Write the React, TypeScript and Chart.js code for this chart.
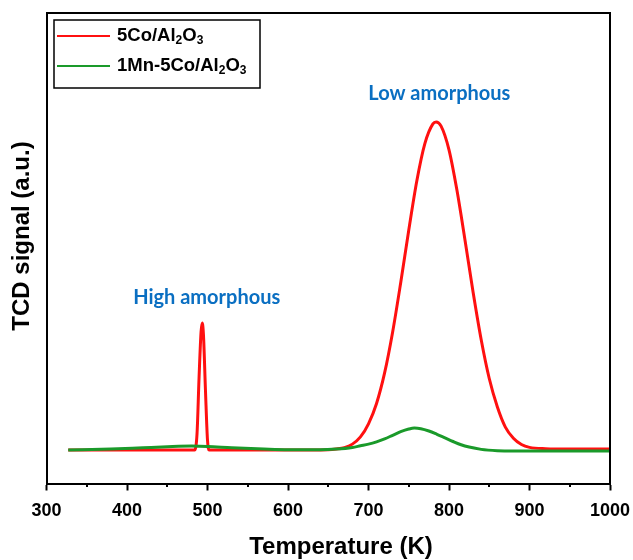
import React, { useEffect, useRef } from "react";
import { Chart, registerables } from "chart.js";

Chart.register(...registerables);

// ---------- data ----------
const X_MIN = 300;
const X_MAX = 1000;
const X_MAJOR_STEP = 100;
const X_MINOR_TICKS = [350, 450, 550, 650, 750, 850, 950];
const Y_MIN = -10.2;
const Y_MAX = 133.2;

const seriesNames = ["5Co/Al2O3", "1Mn-5Co/Al2O3"];
const seriesColors = ["#ff1010", "#1a9a2a"];

const redTemps = [
  327, 400, 470, 484, 487, 489.5, 492, 493.5, 495, 497.5, 500, 502, 550, 600,
  650, 660, 670, 680, 690, 700, 710, 720, 730, 740, 750, 760, 770, 780, 784,
  790, 800, 810, 820, 830, 840, 850, 860, 870, 880, 890, 900, 920, 950, 1000,
];
const redSignal = [
  0, 0, 0, 0, 5, 22, 36, 38.7, 35, 18, 3, 0, 0, 0,
  0.1, 0.3, 0.7, 1.8, 4.0, 8.0, 14.2, 23.5, 36, 51, 67, 82, 93.4, 99.4, 100,
  98.8, 91.5, 79, 63.8, 48, 33.6, 21.8, 13.2, 7.0, 3.6, 1.7, 0.8, 0.4, 0.3, 0.3,
];

const greenTemps = [
  327, 380, 420, 450, 480, 500, 530, 570, 600, 640, 660, 680, 690, 700, 710,
  720, 730, 740, 750, 757, 765, 775, 785, 795, 805, 815, 825, 840, 860, 880,
  1000,
];
const greenSignal = [
  0, 0.3, 0.7, 1.0, 1.2, 1.1, 0.7, 0.3, 0.1, 0.1, 0.3, 0.8, 1.3, 1.8, 2.5,
  3.4, 4.5, 5.6, 6.4, 6.7, 6.5, 5.8, 4.8, 3.7, 2.6, 1.6, 0.9, 0.2, -0.2, -0.3,
  -0.3,
];

const xTitle = "Temperature (K)";
const yTitle = "TCD signal (a.u.)";
const annotationTexts = ["Low amorphous", "High amorphous"];
const annotationX = [788, 499];
const annotationY = [108.8, 46.6];

// ---------- helpers ----------
const AXIS_FONT = "'Liberation Sans', Arial, Helvetica, sans-serif";

function drawSubText(ctx: CanvasRenderingContext2D, text: string, x: number, y: number, size: number) {
  let cx = x;
  for (let i = 0; i < text.length; i++) {
    const ch = text[i];
    const prev = i > 0 ? text[i - 1] : "";
    const isSub = /[0-9]/.test(ch) && /[A-Za-z]/.test(prev);
    if (isSub) {
      ctx.font = `bold ${Math.round(size * 0.65)}px ${AXIS_FONT}`;
      ctx.fillText(ch, cx, y + size * 0.28);
    } else {
      ctx.font = `bold ${size}px ${AXIS_FONT}`;
      ctx.fillText(ch, cx, y);
    }
    cx += ctx.measureText(ch).width;
  }
}

const framePlugin = {
  id: "frame",
  afterDraw(chart: any) {
    const { ctx, chartArea } = chart;
    const xs = chart.scales.x;
    ctx.save();
    // top and right frame
    ctx.strokeStyle = "#000";
    ctx.lineWidth = 2;
    ctx.beginPath();
    ctx.moveTo(chartArea.left, chartArea.top);
    ctx.lineTo(chartArea.right, chartArea.top);
    ctx.lineTo(chartArea.right, chartArea.bottom);
    ctx.stroke();
    // minor ticks
    ctx.lineWidth = 2;
    ctx.beginPath();
    X_MINOR_TICKS.forEach((v) => {
      const px = Math.round(xs.getPixelForValue(v));
      ctx.moveTo(px, chartArea.bottom);
      ctx.lineTo(px, chartArea.bottom + 3.5);
    });
    ctx.stroke();

    // x title
    ctx.fillStyle = "#000";
    ctx.font = `bold 24px ${AXIS_FONT}`;
    ctx.textAlign = "center";
    ctx.textBaseline = "middle";
    ctx.fillText(xTitle, chartArea.left + 294.5, chartArea.bottom + 63.5);

    // y title
    ctx.translate(22, 236);
    ctx.rotate(-Math.PI / 2);
    ctx.fillText(yTitle, 0, 0);
    ctx.restore();

    // annotations
    ctx.save();
    const ys = chart.scales.y;
    ctx.fillStyle = "#0a6fc2";
    ctx.font = "bold 20px Lato, 'Open Sans', sans-serif";
    ctx.textAlign = "center";
    ctx.textBaseline = "middle";
    annotationTexts.forEach((t, i) => {
      ctx.fillText(t, xs.getPixelForValue(annotationX[i]), ys.getPixelForValue(annotationY[i]));
    });
    ctx.restore();

    // legend
    ctx.save();
    const bx = chartArea.left + 7.5;
    const by = chartArea.top + 7;
    const bw = 206;
    const bh = 68;
    ctx.fillStyle = "#fff";
    ctx.fillRect(bx, by, bw, bh);
    ctx.strokeStyle = "#000";
    ctx.lineWidth = 1.5;
    ctx.strokeRect(bx, by, bw, bh);
    seriesNames.forEach((name, i) => {
      const ly = by + 16 + i * 30;
      ctx.strokeStyle = seriesColors[i];
      ctx.lineWidth = 2;
      ctx.beginPath();
      ctx.moveTo(bx + 3, ly);
      ctx.lineTo(bx + 56, ly);
      ctx.stroke();
      ctx.fillStyle = "#000";
      ctx.textAlign = "left";
      ctx.textBaseline = "middle";
      drawSubText(ctx, name, bx + 63, ly, 18.5);
    });
    ctx.restore();
  },
};

export default function App() {
  const canvasRef = useRef<HTMLCanvasElement | null>(null);

  useEffect(() => {
    const canvas = canvasRef.current;
    if (!canvas) return;
    const chart = new Chart(canvas, {
      type: "line",
      data: {
        datasets: [
          {
            label: seriesNames[0],
            data: redTemps.map((x, i) => ({ x, y: redSignal[i] })),
            borderColor: seriesColors[0],
            borderWidth: 3,
            pointRadius: 0,
            cubicInterpolationMode: "monotone",
            order: 2,
          },
          {
            label: seriesNames[1],
            data: greenTemps.map((x, i) => ({ x, y: greenSignal[i] })),
            borderColor: seriesColors[1],
            borderWidth: 3,
            pointRadius: 0,
            cubicInterpolationMode: "monotone",
            order: 1,
          },
        ],
      },
      options: {
        animation: false,
        responsive: false,
        devicePixelRatio: 1,
        layout: { padding: { top: 13, right: 23, left: 0, bottom: 0 } },
        plugins: { legend: { display: false }, tooltip: { enabled: false } },
        scales: {
          x: {
            type: "linear",
            min: X_MIN,
            max: X_MAX,
            position: "bottom",
            afterFit: (s: any) => {
              s.height = 76.5;
              s.paddingLeft = 0;
              s.paddingRight = 0;
            },
            ticks: {
              stepSize: X_MAJOR_STEP,
              autoSkip: false,
              maxRotation: 0,
              padding: 10,
              color: "#000",
              font: { family: AXIS_FONT, size: 18, weight: "bold" },
              callback: (v: any) => String(v),
            },
            grid: {
              drawOnChartArea: false,
              drawTicks: true,
              tickLength: 7,
              tickWidth: 2,
              tickColor: "#000",
            },
            border: { display: true, color: "#000", width: 2 },
            title: { display: false },
          },
          y: {
            type: "linear",
            min: Y_MIN,
            max: Y_MAX,
            afterFit: (s: any) => {
              s.width = 46.5;
            },
            ticks: { display: false },
            grid: { display: false, drawTicks: false },
            border: { display: true, color: "#000", width: 2 },
          },
        },
      },
      plugins: [framePlugin],
    } as any);
    return () => chart.destroy();
  }, []);

  return (
    <div style={{ position: "fixed", left: 0, top: 0, width: 633, height: 560, background: "#fff" }}>
      <canvas ref={canvasRef} width={633} height={560} style={{ display: "block" }} />
    </div>
  );
}
